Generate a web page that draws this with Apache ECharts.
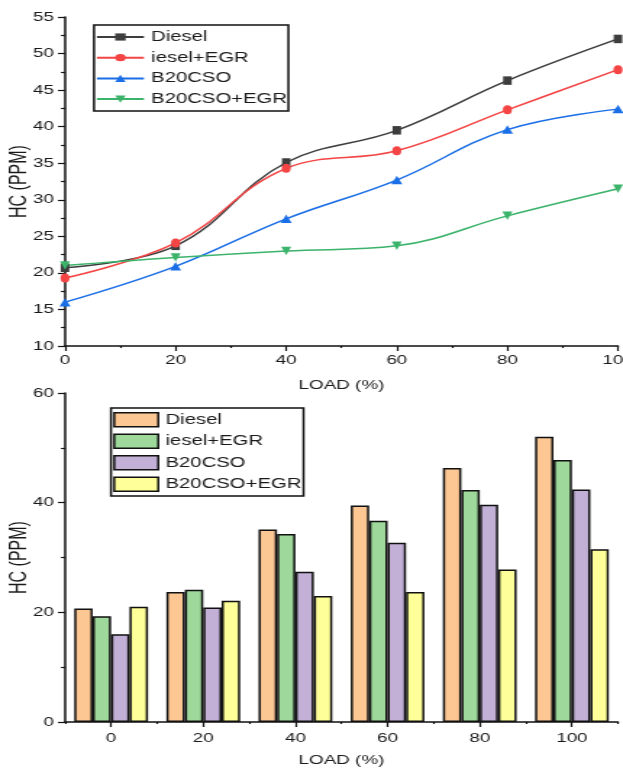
<!DOCTYPE html>
<html>
<head>
<meta charset="utf-8">
<script src="https://cdn.jsdelivr.net/npm/echarts@6/dist/echarts.min.js"></script>
<style>
html, body { margin: 0; padding: 0; background: #fff; overflow: hidden; }
#wrap { width: 623px; height: 769px; overflow: hidden; }
#chart { width: 430px; height: 769px; transform: scaleX(1.4488); transform-origin: 0 0; }
</style>
</head>
<body>
<div id="wrap"><div id="chart"></div></div>
<script>
// data (HC in ppm vs engine load)
const loads = [0, 20, 40, 60, 80, 100];
const seriesNames = ['Diesel', 'iesel+EGR', 'B20CSO', 'B20CSO+EGR'];
const diesel = [20.7, 23.7, 35.1, 39.5, 46.3, 52.0];
const dieselEgr = [19.3, 24.1, 34.3, 36.7, 42.3, 47.8];
const b20cso = [16.0, 20.9, 27.4, 32.7, 39.6, 42.4];
const b20csoEgr = [21.0, 22.1, 23.0, 23.7, 27.8, 31.5];
const allSeries = [diesel, dieselEgr, b20cso, b20csoEgr];

// the original figure is stretched sideways, so the chart is drawn narrow and scaled in x
const SX = 623 / 430;
const px = v => v / SX;

const font = 'Liberation Sans, Arial, sans-serif';
const ink = '#1a1a1a';
const lineColors = ['#3d3d3d', '#f44444', '#1a6ee6', '#3cb36b'];
const barColors = ['#fdc794', '#9ed89b', '#c2b0d6', '#ffff99'];
const symbols = ['rect', 'circle', 'triangle', 'path://M0,0 L10,0 L5,9 Z'];
const symbolSizes = [[px(8.5), 8.5], [px(9), 9], [px(11), 8.5], [px(10), 8.5]];

const chart = echarts.init(document.getElementById('chart'));

const axisLine = { show: true, lineStyle: { color: '#111', width: 1.5 } };
const tickStyle = { color: '#111', width: 1.2 };
const labelStyle = { color: ink, fontFamily: font, fontSize: 13 };
const nameStyle = { color: ink, fontFamily: font, fontSize: 13 };
const yNameStyle = { color: ink, fontFamily: font, fontSize: 16 };

function yAxisFor(grid, min, max, interval) {
    return {
        type: 'value', gridIndex: grid, min: min, max: max, interval: interval,
        name: 'HC (PPM)', nameLocation: 'middle', nameGap: 23, nameMoveOverlap: false,
        nameTextStyle: yNameStyle,
        axisLine: axisLine,
        axisTick: { show: true, length: px(7), lineStyle: tickStyle },
        minorTick: { show: true, splitNumber: 2, length: px(4), lineStyle: tickStyle },
        splitLine: { show: false },
        axisLabel: Object.assign({ margin: px(11) }, labelStyle)
    };
}

const options = {
    animation: false,
    backgroundColor: '#fff',
    grid: [
        { left: px(65), right: px(5), top: 17, height: 329, outerBoundsMode: 'none' },
        { left: px(65), right: px(5), top: 393, height: 329, outerBoundsMode: 'none' }
    ],
    xAxis: [
        {
            type: 'value', gridIndex: 0, min: 0, max: 100, interval: 20,
            name: 'LOAD (%)', nameLocation: 'middle', nameGap: 33, nameTextStyle: nameStyle,
            axisLine: axisLine,
            axisTick: { show: true, length: 5, lineStyle: tickStyle },
            minorTick: { show: true, splitNumber: 2, length: 2, lineStyle: tickStyle },
            splitLine: { show: false },
            axisLabel: Object.assign({ margin: 8 }, labelStyle)
        },
        {
            type: 'category', gridIndex: 1, position: 'bottom', data: loads.map(String),
            name: 'LOAD (%)', nameLocation: 'middle', nameGap: 32, nameTextStyle: nameStyle,
            axisLine: axisLine,
            axisTick: { show: true, alignWithLabel: true, length: 5, lineStyle: tickStyle },
            splitLine: { show: false },
            axisLabel: Object.assign({ margin: 10 }, labelStyle)
        },
        {
            // boundary ticks between the load groups
            type: 'category', gridIndex: 1, position: 'bottom', data: loads.map(String),
            axisLine: { show: false },
            axisTick: { show: true, length: 2, lineStyle: tickStyle },
            axisLabel: { show: false },
            splitLine: { show: false }
        }
    ],
    yAxis: [
        yAxisFor(0, 10, 55, 5),
        yAxisFor(1, 0, 60, 20)
    ],
    legend: [
        {
            orient: 'vertical', left: px(94), top: 25,
            padding: [5, 1, 5, 1], itemWidth: px(47), itemHeight: 9, itemGap: 6.7,
            borderColor: '#111', borderWidth: 1.5,
            data: seriesNames,
            textStyle: { color: ink, fontFamily: font, fontSize: 14 }
        },
        {
            orient: 'vertical', left: px(111), top: 408,
            padding: [4, 1.5, 4, 1.5], itemWidth: px(44), itemHeight: 14, itemGap: 6,
            borderColor: '#111', borderWidth: 1.5,
            icon: 'rect',
            data: seriesNames.map(n => n + ' '),
            formatter: n => n.trim(),
            itemStyle: { borderColor: '#111', borderWidth: 1.5 },
            textStyle: { color: ink, fontFamily: font, fontSize: 14 }
        }
    ],
    series: []
};

allSeries.forEach((vals, i) => {
    options.series.push({
        name: seriesNames[i],
        type: 'line',
        xAxisIndex: 0, yAxisIndex: 0,
        data: loads.map((x, j) => [x, vals[j]]),
        smooth: 0.4,
        symbol: symbols[i],
        symbolSize: symbolSizes[i],
        lineStyle: { color: lineColors[i], width: 1.5 },
        itemStyle: { color: lineColors[i] }
    });
});

allSeries.forEach((vals, i) => {
    options.series.push({
        name: seriesNames[i] + ' ',
        type: 'bar',
        xAxisIndex: 1, yAxisIndex: 1,
        data: vals,
        barGap: '0%',
        barCategoryGap: '20%',
        itemStyle: { color: barColors[i], borderColor: '#111', borderWidth: 1.5 }
    });
});

chart.setOption(options);
</script>
</body>
</html>
